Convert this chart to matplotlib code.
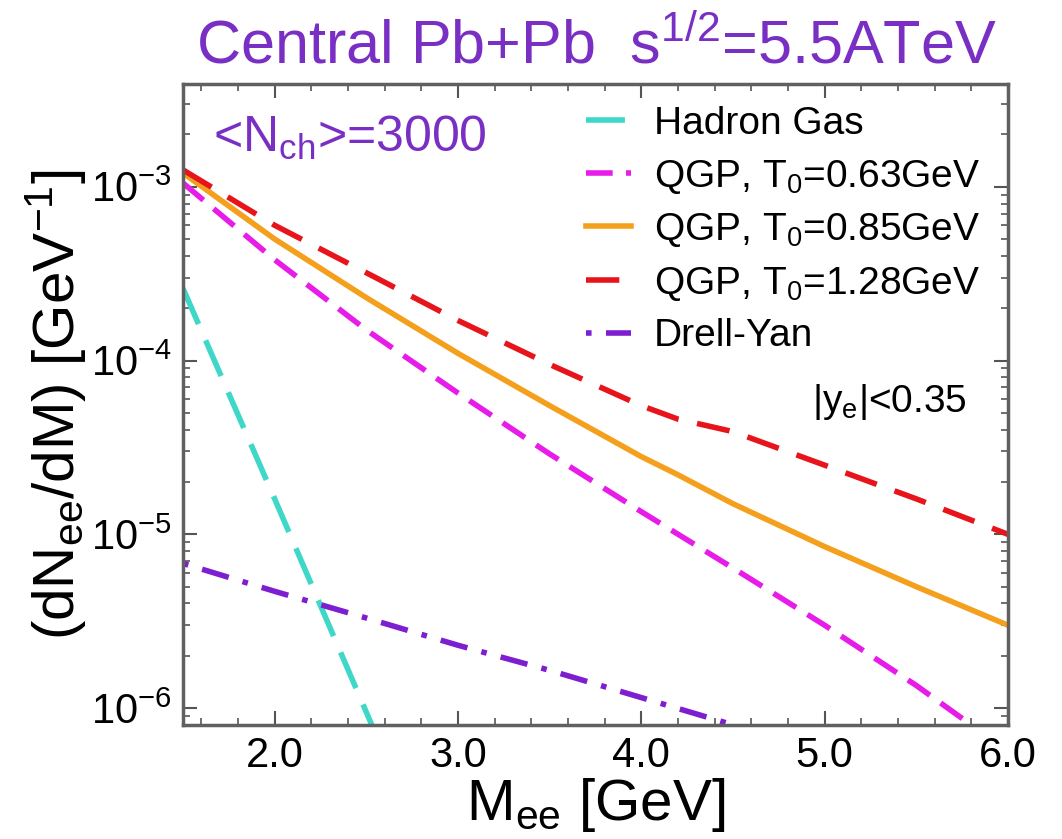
import numpy as np
import matplotlib
matplotlib.use("Agg")
import matplotlib.pyplot as plt
from matplotlib.ticker import MultipleLocator, LogLocator, FixedLocator

# fonts: Helvetica look-alike
plt.rcParams['font.family'] = ['Liberation Sans', 'DejaVu Sans']
plt.rcParams['mathtext.fontset'] = 'custom'
plt.rcParams['mathtext.rm'] = 'Liberation Sans'
plt.rcParams['mathtext.it'] = 'Liberation Sans'
plt.rcParams['mathtext.bf'] = 'Liberation Sans:bold'

# data (M_ee in GeV, dN/dM in 1/GeV)
m_qgp = [1.5, 2.0, 2.5, 3.0, 3.5, 4.0, 4.2, 4.5, 5.0, 5.5, 6.0]
qgp_128 = [1.25e-3, 6.0e-4, 3.2e-4, 1.7e-4, 9.5e-5, 5.5e-5, 4.6e-5, 3.9e-5, 2.5e-5, 1.6e-5, 1.0e-5]
qgp_085 = [1.2e-3, 5.0e-4, 2.3e-4, 1.1e-4, 5.5e-5, 2.8e-5, 2.2e-5, 1.5e-5, 8.5e-6, 5.0e-6, 3.0e-6]
m_063 = [1.5, 2.0, 2.5, 3.0, 3.5, 4.0, 4.5, 5.0, 5.5, 5.8]
qgp_063 = [1.05e-3, 3.8e-4, 1.5e-4, 6.5e-5, 2.9e-5, 1.35e-5, 6.4e-6, 3.0e-6, 1.35e-6, 8.0e-7]
m_hg = [1.5, 2.0, 2.53]
hadron_gas = [2.6e-4, 1.6e-5, 8.0e-7]
m_dy = [1.5, 2.0, 2.5, 3.0, 3.5, 4.0, 4.52]
drell_yan = [6.8e-6, 4.7e-6, 3.3e-6, 2.3e-6, 1.65e-6, 1.15e-6, 7.9e-7]

purple = '#7a2fc4'

fig = plt.figure(figsize=(10.62, 8.39), dpi=100)
ax = fig.add_axes([0.1723, 0.1359, 0.7768, 0.764])

lw = 4
ax.plot(m_hg, hadron_gas, color='#3fd8c8', lw=lw, dashes=(7, 3.2), label='Hadron Gas')
ax.plot(m_063, qgp_063, color='#e81ce8', lw=lw, dashes=(4.8, 2.4), label=r'QGP, T$_0$=0.63GeV')
ax.plot(m_qgp, qgp_085, color='#f4a01c', lw=lw, label=r'QGP, T$_0$=0.85GeV')
ax.plot(m_qgp, qgp_128, color='#e8141c', lw=lw, dashes=(6.0, 3.4), label=r'QGP, T$_0$=1.28GeV')
ax.plot(m_dy, drell_yan, color='#7d1fd1', lw=lw, linestyle=(7.6, (5, 2.6, 1, 2.6)),
        label='Drell-Yan')

ax.set_yscale('log')
ax.set_xlim(1.5, 6.0)
ax.set_ylim(8e-7, 3.9e-3)

ax.xaxis.set_major_locator(FixedLocator([2, 3, 4, 5, 6]))
ax.xaxis.set_minor_locator(MultipleLocator(0.2))
ax.set_xticklabels(['2.0', '3.0', '4.0', '5.0', '6.0'])
ax.yaxis.set_major_locator(LogLocator(base=10, numticks=10))
ax.yaxis.set_minor_locator(LogLocator(base=10, subs=np.arange(2, 10), numticks=20))

ax.tick_params(which='both', direction='in', top=True, right=True, colors='#555555',
               labelcolor='black', labelsize=30)
ax.tick_params(which='major', length=10, width=1.5, pad=8)
ax.tick_params(which='minor', length=5, width=1.2)
for s in ax.spines.values():
    s.set_color('#606060')
    s.set_linewidth(2.5)

ax.set_xlabel(r'M$_{\rm ee}$ [GeV]', fontsize=42, labelpad=0)
ax.set_ylabel(r'(dN$_{\rm ee}$/dM) [GeV$^{-1}$]', fontsize=42, labelpad=2)

fig.text(0.5612, 0.943, r'Central Pb+Pb  s$^{1/2}$=5.5ATeV', color=purple,
         fontsize=44, ha='center', va='center')
ax.text(0.036, 0.894, r'<N$_{\rm ch}$>=3000', color=purple, fontsize=36,
        transform=ax.transAxes, va='baseline')
ax.text(0.762, 0.488, r'|y$_{\rm e}$|<0.35', color='black', fontsize=28,
        transform=ax.transAxes, va='baseline')

leg = ax.legend(loc='upper left', bbox_to_anchor=(0.47, 0.99), frameon=False,
                fontsize=28, handlelength=1.16, handletextpad=0.57,
                labelspacing=0.4, borderaxespad=0)

fig.savefig('out.png', dpi=100)
